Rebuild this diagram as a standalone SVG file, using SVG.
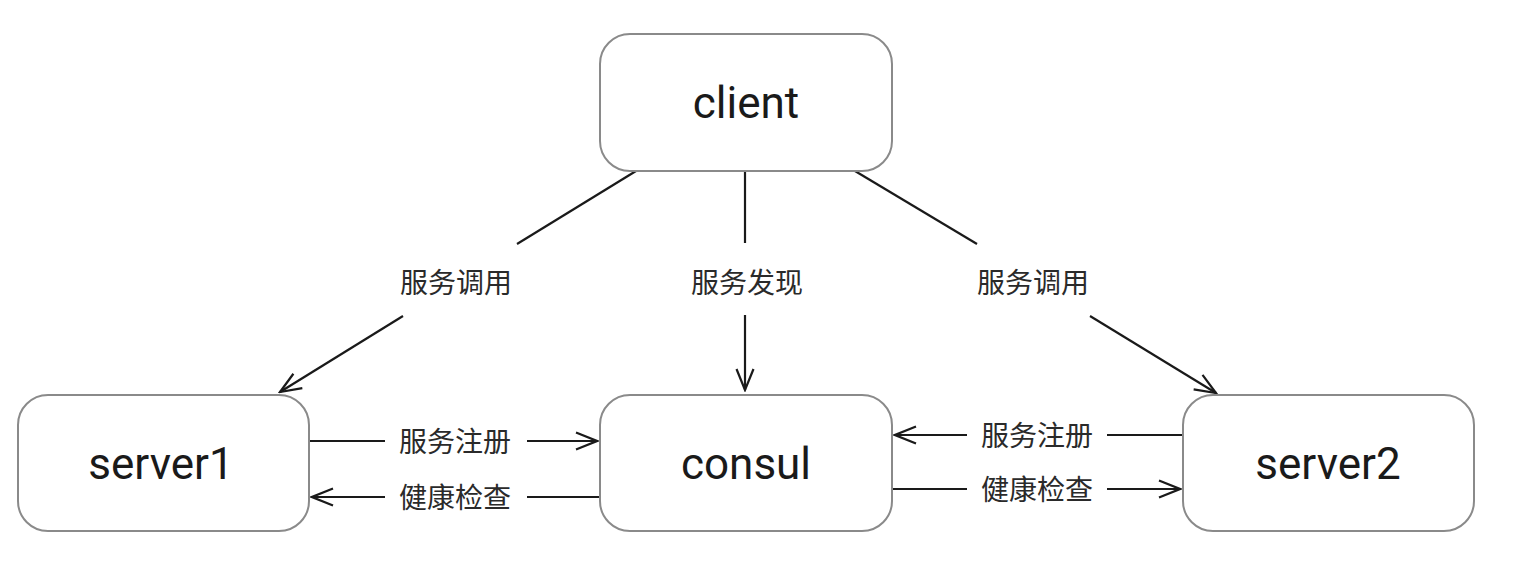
<svg xmlns="http://www.w3.org/2000/svg" width="1518" height="568" viewBox="0 0 1518 568">
<defs>
<marker id="arr" viewBox="0 0 24 20" refX="22" refY="10" markerWidth="24" markerHeight="20" markerUnits="userSpaceOnUse" orient="auto">
<path d="M1,1.5 L22,10 L1,18.5" fill="none" stroke="#1a1a1a" stroke-width="2.2"/>
</marker>
<style>
.box{fill:#fff;stroke:#8a8a8a;stroke-width:2}
.name{font-family:Roboto,"Liberation Sans",sans-serif;font-size:44px;fill:#1a1a1a;text-anchor:middle}
.lbl{font-family:"Noto Sans CJK SC",sans-serif;font-size:28px;fill:#2a2a2a;text-anchor:middle;dominant-baseline:central}
.ln{stroke:#1a1a1a;stroke-width:2.2;fill:none}
</style>
</defs>
<rect width="1518" height="568" fill="#fff"/>
<g id="connectors">
<line class="ln" x1="636" y1="171" x2="517" y2="244"/>
<line class="ln" x1="403" y1="316" x2="280" y2="392" marker-end="url(#arr)"/>
<text class="lbl" x="456" y="281">服务调用</text>
<line class="ln" x1="745" y1="171" x2="745" y2="243"/>
<line class="ln" x1="745" y1="315" x2="745" y2="390" marker-end="url(#arr)"/>
<text class="lbl" x="747" y="281">服务发现</text>
<line class="ln" x1="855" y1="171" x2="977" y2="244"/>
<line class="ln" x1="1090" y1="316" x2="1216" y2="393" marker-end="url(#arr)"/>
<text class="lbl" x="1033" y="281">服务调用</text>
<line class="ln" x1="309" y1="441" x2="385" y2="441"/>
<line class="ln" x1="527" y1="441" x2="597" y2="441" marker-end="url(#arr)"/>
<text class="lbl" x="455" y="440">服务注册</text>
<line class="ln" x1="600" y1="497" x2="527" y2="497"/>
<line class="ln" x1="385" y1="497" x2="312" y2="497" marker-end="url(#arr)"/>
<text class="lbl" x="455" y="496">健康检查</text>
<line class="ln" x1="1183" y1="435" x2="1107" y2="435"/>
<line class="ln" x1="967" y1="435" x2="895" y2="435" marker-end="url(#arr)"/>
<text class="lbl" x="1037" y="434">服务注册</text>
<line class="ln" x1="892" y1="489" x2="967" y2="489"/>
<line class="ln" x1="1107" y1="489" x2="1180" y2="489" marker-end="url(#arr)"/>
<text class="lbl" x="1037" y="488">健康检查</text>
</g>
<g id="client">
<rect class="box" x="600" y="34" width="292" height="137" rx="30"/>
<text class="name" x="746" y="118">client</text>
</g>
<g id="server1">
<rect class="box" x="18" y="395" width="291" height="136" rx="30"/>
<text class="name" x="161" y="479">server1</text>
</g>
<g id="consul">
<rect class="box" x="600" y="395" width="292" height="136" rx="30"/>
<text class="name" x="746" y="479">consul</text>
</g>
<g id="server2">
<rect class="box" x="1183" y="395" width="291" height="136" rx="30"/>
<text class="name" x="1328" y="479">server2</text>
</g>
</svg>
